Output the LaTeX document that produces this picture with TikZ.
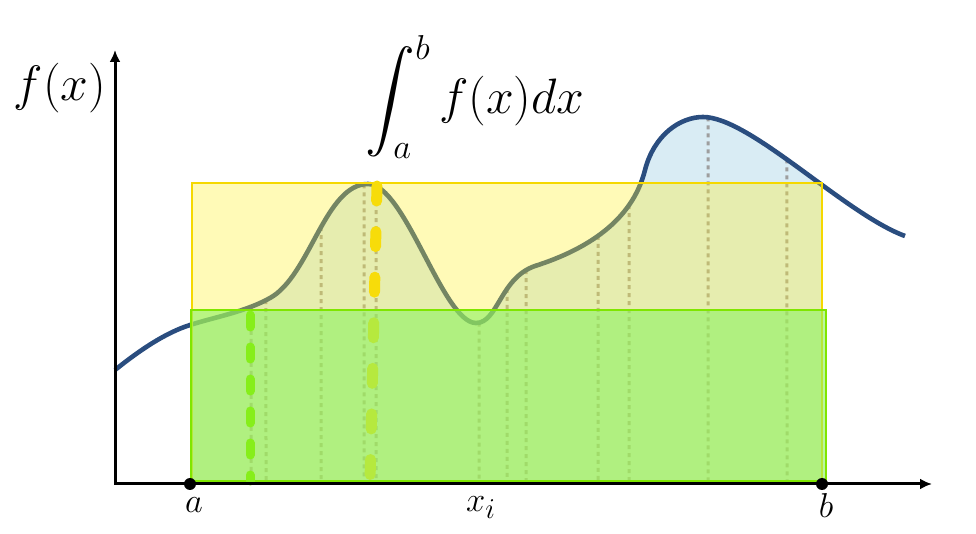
\documentclass[tikz,border=0pt]{standalone}
\usepackage{amsmath}
\usepackage{xcolor}
\usetikzlibrary{arrows.meta,intersections}
\definecolor{curveblue}{HTML}{2A4D7F}
\definecolor{areablue}{HTML}{D9ECF4}
\definecolor{boxyellow}{HTML}{FFF030}
\definecolor{edgeyellow}{HTML}{F5D800}
\definecolor{dashyellow}{HTML}{F7DC0A}
\definecolor{boxgreen}{HTML}{8CF261}
\definecolor{edgegreen}{HTML}{7FE600}
\definecolor{dashgreen}{HTML}{86EE1A}
\def\fpath{(115,370) .. controls (140,350) and (165,333) .. (190,325)
  .. controls (215,317) and (245,312) .. (270,298)
  .. controls (310,276) and (325,184) .. (368,184)
  .. controls (405,184) and (443,323) .. (476,323)
  .. controls (498,323) and (500,278) .. (535,266)
  .. controls (585,250) and (632,222) .. (645,170)
  .. controls (654,135) and (680,117) .. (703,117)
  .. controls (750,117) and (845,214) .. (905,236)}

\begin{document}
\begin{tikzpicture}[x=0.5pt,y=-0.5pt,
  axis/.style={black,line width=1.5pt,{Latex[length=6pt,width=5.5pt]}-{Latex[length=6pt,width=5.5pt]}},
  fcurve/.style={curveblue,line width=2.3pt},
  sample/.style={black!38,line width=1.5pt,dash pattern=on 2pt off 2pt},
  ybox/.style={draw=edgeyellow,line width=1.3pt,fill=boxyellow,fill opacity=0.35},
  gbox/.style={draw=edgegreen,line width=1.3pt,fill=boxgreen,fill opacity=0.6},
  ydash/.style={dashyellow,line width=5.5pt,line cap=round,dash pattern=on 7.5pt off 15.3pt},
  gdash/.style={dashgreen,line width=4.5pt,line cap=round,dash pattern=on 6pt off 10pt},
  endpt/.style={circle,fill=black,inner sep=0pt,minimum size=6pt},
  lbl/.style={font=\fontsize{19}{23}\selectfont}]
\useasboundingbox (0,0) rectangle (976,534);
\begin{scope}
\clip (190,0) rectangle (822,484);
\fill[areablue] \fpath -- (905,484) -- (115,484) -- cycle;
\end{scope}
\path[name path=graph] \fpath;
\foreach \sx in {251,266,321,364,376,479,507,526,598,629,708,787}{
  \path[name path=cut] (\sx,0) -- (\sx,490);
  \draw[sample,name intersections={of=graph and cut,by=top}] (top) -- (\sx,482);
}
\draw[fcurve] \fpath;
\draw[ybox] (192,183) rectangle (822,481);
\draw[ydash] (377,186) -- (370,481);
\draw[gbox] (191,310) rectangle (826,481);
\draw[gdash] (250,315) -- (250,481);
\coordinate (O) at (115,484);
\coordinate (xtip) at (932,484);
\coordinate (ytip) at (115,50);
\draw[axis] (ytip) -- (O) -- (xtip);
\node[endpt] (a) at (190,484) {};
\node[endpt] (b) at (822,484) {};
\node[lbl] (alab) at (194,505) {$a$};
\node[lbl] (xlab) at (481,508) {$x_i$};
\node[lbl] (blab) at (826,506) {$b$};
\node[font=\fontsize{24.5}{29}\selectfont] (flab) at (60,88) {$f(x)$};
\node[font=\fontsize{24.5}{29}\selectfont,inner sep=0pt] (intlab) at (475,97) {$\displaystyle\int_a^b f(x)dx$};
\end{tikzpicture}
\end{document}
